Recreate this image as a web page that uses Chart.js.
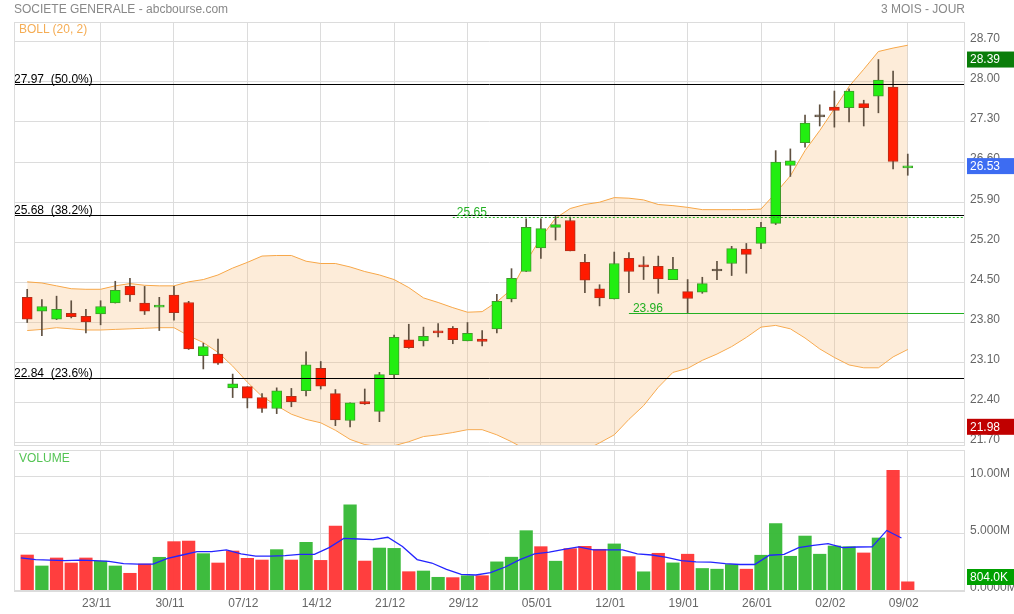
<!DOCTYPE html>
<html>
<head>
<meta charset="utf-8">
<title>SOCIETE GENERALE - abcbourse.com</title>
<script src="https://cdn.jsdelivr.net/npm/chart.js@4.4.1/dist/chart.umd.min.js"></script>
<style>
    html, body { margin: 0; padding: 0; background: #fff; }
    #wrap { position: relative; width: 1014px; height: 614px; overflow: hidden; font-family: 'Liberation Sans', Arial, sans-serif; }
    #priceBox { position: absolute; left: 0; top: 0; width: 1014px; height: 446px; }
    #volBox { position: absolute; left: 0; top: 446px; width: 1014px; height: 168px; }
    .txt { position: absolute; font-size: 12px; line-height: 14px; white-space: nowrap; }
</style>
</head>
<body>
<div id="wrap">
    <div id="priceBox"><canvas id="priceChart"></canvas></div>
    <div id="volBox"><canvas id="volumeChart"></canvas></div>
    <div class="txt" style="left:14px;top:2px;color:#888;">SOCIETE GENERALE - abcbourse.com</div>
    <div class="txt" style="right:49px;top:2px;color:#888;">3 MOIS - JOUR</div>
    <div class="txt" style="left:19px;top:22px;color:#f5ad55;">BOLL (20, 2)</div>
    <div class="txt" style="left:19px;top:451px;color:#55c455;">VOLUME</div>
</div>
<script>
// Daily candles (61 sessions)
const openP = [24.24, 24.00, 23.86, 23.96, 23.91, 23.95, 24.14, 24.43, 24.14, 24.07,
    24.28, 24.15, 23.22, 23.25, 22.66, 22.68, 22.49, 22.30, 22.51, 22.61,
    23.00, 22.56, 22.09, 22.42, 22.25, 22.89, 23.50, 23.48, 23.64, 23.70,
    23.48, 23.51, 23.69, 24.21, 24.69, 25.10, 25.46, 25.58, 24.85, 24.39,
    24.21, 24.92, 24.80, 24.78, 24.55, 24.34, 24.33, 24.70, 24.83, 25.08,
    25.18, 25.53, 26.54, 26.94, 27.39, 27.56, 27.55, 27.62, 27.75, 27.91,
    26.50];
const highP = [24.38, 24.20, 24.26, 24.18, 24.03, 24.18, 24.52, 24.57, 24.43, 24.24,
    24.43, 24.17, 23.44, 23.51, 22.90, 22.68, 22.56, 22.66, 22.65, 23.29,
    23.12, 22.63, 22.40, 22.64, 22.93, 23.58, 23.77, 23.72, 23.78, 23.73,
    23.80, 23.66, 24.29, 24.74, 25.61, 25.61, 25.65, 25.64, 24.99, 24.46,
    25.03, 25.02, 24.95, 24.96, 24.94, 24.55, 24.59, 24.87, 25.13, 25.18,
    25.55, 26.80, 26.83, 27.42, 27.60, 27.84, 27.88, 27.68, 28.39, 28.19,
    26.74];
const lowP = [23.80, 23.57, 23.85, 23.88, 23.62, 23.76, 24.14, 24.17, 23.94, 23.66,
    23.84, 23.33, 22.99, 23.07, 22.49, 22.31, 22.23, 22.21, 22.33, 22.52,
    22.64, 22.00, 21.98, 22.37, 22.07, 22.82, 23.35, 23.39, 23.55, 23.43,
    23.48, 23.39, 23.62, 24.16, 24.69, 24.92, 25.24, 25.05, 24.32, 24.09,
    24.21, 24.32, 24.55, 24.31, 24.55, 23.96, 24.31, 24.55, 24.62, 24.66,
    25.09, 25.51, 26.35, 26.86, 27.23, 27.21, 27.30, 27.23, 27.46, 26.48,
    26.37];
const closeP = [23.86, 24.08, 24.03, 23.90, 23.81, 24.08, 24.36, 24.28, 24.00, 24.09,
    23.97, 23.34, 23.38, 23.09, 22.73, 22.48, 22.30, 22.61, 22.42, 23.06,
    22.69, 22.10, 22.40, 22.38, 22.89, 23.54, 23.36, 23.56, 23.62, 23.50,
    23.61, 23.47, 24.17, 24.57, 25.46, 25.44, 25.51, 25.05, 24.54, 24.23,
    24.83, 24.69, 24.77, 24.56, 24.73, 24.22, 24.48, 24.70, 25.09, 24.99,
    25.46, 26.60, 26.62, 27.28, 27.39, 27.50, 27.84, 27.55, 28.03, 26.61,
    26.53];

// Bollinger (20, 2) bands
const bollUpper = [24.51, 24.49, 24.44, 24.39, 24.38, 24.38, 24.44, 24.48, 24.45, 24.44,
    24.44, 24.51, 24.55, 24.63, 24.75, 24.85, 24.96, 24.97, 24.97, 24.87,
    24.83, 24.83, 24.77, 24.69, 24.63, 24.55, 24.41, 24.23, 24.15, 24.06,
    23.98, 23.99, 24.16, 24.38, 24.86, 25.28, 25.62, 25.79, 25.86, 25.90,
    25.98, 25.97, 25.94, 25.86, 25.84, 25.81, 25.77, 25.77, 25.77, 25.77,
    25.78, 26.06, 26.36, 26.80, 27.15, 27.53, 27.92, 28.22, 28.53, 28.59,
    28.64];
const bollLower = [23.66, 23.68, 23.71, 23.69, 23.67, 23.67, 23.68, 23.69, 23.70, 23.71,
    23.71, 23.57, 23.45, 23.28, 23.04, 22.76, 22.51, 22.35, 22.20, 22.11,
    22.05, 21.92, 21.76, 21.67, 21.63, 21.65, 21.72, 21.81, 21.84, 21.88,
    21.93, 21.93, 21.84, 21.72, 21.58, 21.53, 21.50, 21.51, 21.57, 21.70,
    21.84, 22.11, 22.35, 22.67, 22.93, 23.00, 23.14, 23.25, 23.38, 23.54,
    23.72, 23.75, 23.69, 23.53, 23.34, 23.19, 23.06, 23.01, 23.01, 23.20,
    23.33];

// Volume in millions + its moving average
const volumeM = [3.15, 2.19, 2.89, 2.45, 2.89, 2.62, 2.19, 1.55, 2.36, 2.95,
    4.32, 4.37, 3.27, 2.45, 3.50, 2.86, 2.71, 3.62, 2.71, 4.26,
    2.68, 5.69, 7.55, 2.62, 3.76, 3.73, 1.69, 1.75, 1.20, 1.17,
    1.34, 1.34, 2.55, 2.96, 5.28, 3.88, 2.61, 3.71, 3.91, 3.65,
    4.12, 3.01, 1.68, 3.30, 2.46, 3.22, 1.97, 1.91, 2.32, 1.91,
    3.13, 5.91, 3.04, 4.81, 3.22, 3.94, 3.88, 3.33, 4.64, 10.55,
    0.804];
const volumeMA = [2.90, 2.75, 2.70, 2.65, 2.70, 2.65, 2.60, 2.40, 2.35, 2.35,
    2.85, 3.15, 3.45, 3.45, 3.60, 3.25, 3.05, 3.05, 3.10, 3.20,
    3.20, 3.80, 4.60, 4.55, 4.50, 4.70, 3.90, 2.75, 2.45, 1.90,
    1.45, 1.40, 1.60, 2.10, 2.75, 3.25, 3.40, 3.65, 3.86, 3.60,
    3.60, 3.60, 3.25, 3.15, 2.95, 2.65, 2.55, 2.52, 2.40, 2.32,
    2.32, 3.13, 3.20, 3.80, 4.00, 4.14, 3.80, 3.85, 3.86, 5.30,
    4.64];

// Axis ticks
const tickIndex = [5, 10, 15, 20, 25, 30, 35, 40, 45, 50, 55, 60];
const tickLabels = ['23/11', '30/11', '07/12', '14/12', '21/12', '29/12', '05/01', '12/01', '19/01', '26/01', '02/02', '09/02'];
const priceTicks = [21.70, 22.40, 23.10, 23.80, 24.50, 25.20, 25.90, 26.60, 27.30, 28.00, 28.70];
const volTicks = [0, 5, 10];
const volTickLabels = ['0.0000M', '5.000M', '10.00M'];

// Fibonacci retracements and support/resistance levels
const fibLevels = [27.97, 25.68, 22.84];
const fibPct = ['50.0%', '38.2%', '23.6%'];
const supportLevels = [25.65, 23.96];
const supportFrom = [29, 41];

const FONT = "'Liberation Sans', Arial, sans-serif";
Chart.defaults.font.family = FONT;
Chart.defaults.font.size = 12;

const GRID = '#dcdcdc';
const X_MIN = -0.9, X_MAX = 63.9;

function pts(arr) { return arr.map((v, i) => ({ x: i, y: v })); }

function candleFill(i) {
    if (closeP[i] > openP[i]) return '#22ee11';
    if (closeP[i] < openP[i]) return '#ff1a00';
    return '#5f5040';
}
function candleEdge(i) {
    if (closeP[i] > openP[i]) return '#3f9a2a';
    if (closeP[i] < openP[i]) return '#b3301a';
    return '#5f5040';
}
function volumeColor(i) {
    const ref = i === 0 ? openP[0] : closeP[i - 1];
    return closeP[i] >= ref ? 'rgba(52,184,52,0.95)' : 'rgba(255,52,52,0.95)';
}

function noPad(s) { s.paddingTop = 0; s.paddingBottom = 0; s.paddingLeft = 0; s.paddingRight = 0; }

const panelFrame = {
    id: 'panelFrame',
    afterDraw(chart) {
        const { ctx, chartArea: a } = chart;
        ctx.save();
        ctx.strokeStyle = GRID;
        ctx.lineWidth = 1;
        ctx.strokeRect(a.left + 0.5, a.top + 0.5, a.right - a.left - 1, a.bottom - a.top - 1);
        ctx.restore();
    }
};

function drawTag(ctx, chart, py, color, text) {
    const a = chart.chartArea;
    ctx.fillStyle = color;
    ctx.fillRect(a.right + 2, py - 8, chart.width - a.right - 2, 16);
    ctx.fillStyle = '#fff';
    ctx.textBaseline = 'middle';
    ctx.textAlign = 'left';
    ctx.fillText(text, a.right + 5, py + 0.5);
}

const priceLevels = {
    id: 'priceLevels',
    afterDatasetsDraw(chart) {
        const { ctx, chartArea: a, scales: { x, y } } = chart;
        ctx.save();
        ctx.font = '12px ' + FONT;
        ctx.textBaseline = 'alphabetic';
        ctx.lineWidth = 1;
        fibLevels.forEach((v, k) => {
            const py = Math.round(y.getPixelForValue(v)) + 0.5;
            ctx.strokeStyle = '#000';
            ctx.beginPath(); ctx.moveTo(a.left, py); ctx.lineTo(a.right, py); ctx.stroke();
            ctx.fillStyle = '#000';
            ctx.fillText(v.toFixed(2) + '  (' + fibPct[k] + ')', a.left, py - 2);
        });
        supportLevels.forEach((v, k) => {
            const py = Math.round(y.getPixelForValue(v)) + 0.5;
            const px = x.getPixelForValue(supportFrom[k]);
            ctx.strokeStyle = '#22b022';
            ctx.setLineDash(k === 0 ? [2, 2] : []);
            ctx.beginPath(); ctx.moveTo(px, py); ctx.lineTo(a.right, py); ctx.stroke();
            ctx.setLineDash([]);
            ctx.fillStyle = '#22b022';
            ctx.fillText(v.toFixed(2), px + 4, py - 2);
        });
        ctx.restore();
    },
    afterDraw(chart) {
        const { ctx, scales: { y } } = chart;
        const last = closeP.length - 1;
        ctx.save();
        ctx.font = '12px ' + FONT;
        drawTag(ctx, chart, y.getPixelForValue(Math.max(...highP)), '#0a7d0a', Math.max(...highP).toFixed(2));
        drawTag(ctx, chart, y.getPixelForValue(closeP[last]), '#3d6cf2', closeP[last].toFixed(2));
        drawTag(ctx, chart, y.getPixelForValue(Math.min(...lowP)), '#c00000', Math.min(...lowP).toFixed(2));
        ctx.restore();
    }
};

const volumeTag = {
    id: 'volumeTag',
    afterDraw(chart) {
        const { ctx, chartArea: a, scales: { y } } = chart;
        const v = volumeM[volumeM.length - 1];
        ctx.save();
        ctx.font = '12px ' + FONT;
        drawTag(ctx, chart, Math.min(y.getPixelForValue(v), a.bottom - 14), '#00a000', (v * 1000).toFixed(1) + 'K');
        ctx.restore();
    }
};

function xScale(showLabels) {
    return {
        type: 'linear', min: X_MIN, max: X_MAX, offset: false,
        afterBuildTicks: s => { s.ticks = tickIndex.map(v => ({ value: v })); },
        grid: { color: GRID, drawTicks: false, offset: false },
        border: { display: false },
        ticks: {
            display: showLabels, color: '#666', padding: 5, labelOffset: -4,
            maxRotation: 0, autoSkip: false,
            callback: v => tickLabels[tickIndex.indexOf(v)]
        },
        afterFit: s => { s.height = showLabels ? 23 : 0; noPad(s); }
    };
}

const priceChart = new Chart(document.getElementById('priceChart'), {
    type: 'bar',
    data: {
        datasets: [
            {
                type: 'line', data: pts(bollUpper), borderColor: '#f7a748', borderWidth: 1,
                pointRadius: 0, tension: 0, fill: '+1', backgroundColor: 'rgba(248,192,128,0.3)', order: 3
            },
            {
                type: 'line', data: pts(bollLower), borderColor: '#f7a748', borderWidth: 1,
                pointRadius: 0, tension: 0, fill: false, order: 3
            },
            {
                data: lowP.map((l, i) => ({ x: i, y: [l, highP[i]] })),
                backgroundColor: '#5f5040', barThickness: 1, grouped: false, order: 2
            },
            {
                data: openP.map((o, i) => ({ x: i, y: [o, closeP[i]] })),
                backgroundColor: c => candleFill(c.dataIndex),
                borderColor: c => candleEdge(c.dataIndex),
                borderWidth: 1, borderSkipped: false, barThickness: 10, minBarLength: 2,
                grouped: false, order: 1
            }
        ]
    },
    options: {
        responsive: true, maintainAspectRatio: false, animation: false, events: [],
        layout: { padding: { left: 14, top: 22, right: 0, bottom: 0 } },
        plugins: { legend: { display: false }, tooltip: { enabled: false } },
        scales: {
            x: xScale(false),
            y: {
                position: 'right', min: 21.645, max: 29.045,
                afterBuildTicks: s => { s.ticks = priceTicks.map(v => ({ value: v })); },
                grid: { color: GRID, drawTicks: false },
                border: { display: false },
                ticks: { color: '#666', padding: 5, labelOffset: -3, autoSkip: false, callback: v => v.toFixed(2) },
                afterFit: s => { s.width = 49; noPad(s); }
            }
        }
    },
    plugins: [panelFrame, priceLevels]
});

const volumeChart = new Chart(document.getElementById('volumeChart'), {
    type: 'bar',
    data: {
        datasets: [
            {
                type: 'line', xAxisID: 'xMa', data: pts(volumeMA), borderColor: '#2424ff', borderWidth: 1.3,
                pointRadius: 0, tension: 0, fill: false, order: 1
            },
            {
                data: pts(volumeM), backgroundColor: c => volumeColor(c.dataIndex),
                barThickness: 12.6, grouped: false, order: 2
            }
        ]
    },
    options: {
        responsive: true, maintainAspectRatio: false, animation: false, events: [],
        layout: { padding: { left: 14, top: 4, right: 0, bottom: 0 } },
        plugins: { legend: { display: false }, tooltip: { enabled: false } },
        scales: {
            x: xScale(true),
            // the average line sits a little left of the bars in the original
            xMa: {
                type: 'linear', min: X_MIN + 0.43, max: X_MAX + 0.43, offset: false,
                grid: { display: false, offset: false }, ticks: { display: false }, border: { display: false },
                afterFit: s => { s.height = 0; noPad(s); }
            },
            y: {
                position: 'right', min: 0, max: 12.34,
                afterBuildTicks: s => { s.ticks = volTicks.map(v => ({ value: v })); },
                grid: { color: GRID, drawTicks: false },
                border: { display: false },
                ticks: { color: '#666', padding: 5, labelOffset: -3, autoSkip: false, callback: v => volTickLabels[volTicks.indexOf(v)] },
                afterFit: s => { s.width = 49; noPad(s); }
            }
        }
    },
    plugins: [panelFrame, volumeTag]
});
</script>
</body>
</html>
